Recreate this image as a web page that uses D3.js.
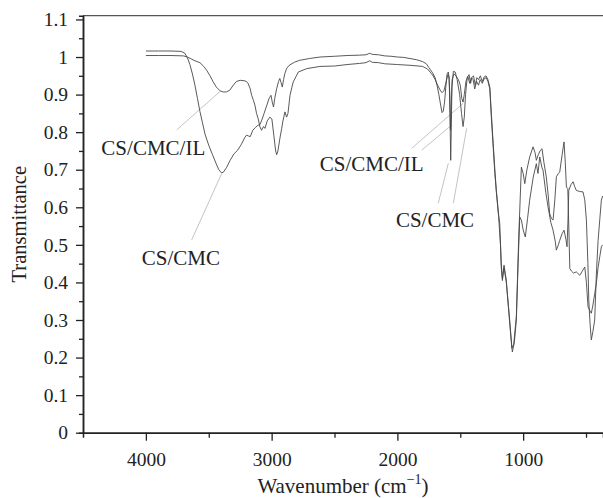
<!DOCTYPE html>
<html>
<head>
<meta charset="utf-8">
<script src="https://cdn.jsdelivr.net/npm/d3@7"></script>
<style>
	body { margin: 0; background: #fff; }
	svg { display: block; font-family: "Liberation Serif", "Times New Roman", serif; }
</style>
</head>
<body>
<div id="chart"></div>
<script>

// FTIR spectra, wavenumber (cm-1) against transmittance

var cmcWavenumbers = [4000, 3900, 3800, 3720, 3690, 3670, 3650, 3630, 3610, 3590, 3570, 3550, 3530, 3500, 3470, 3440, 3420, 3400, 3385, 3360, 3330, 3300, 3270, 3240, 3215, 3200, 3185, 3170, 3150, 3130, 3110, 3093, 3075, 3060, 3040, 3020, 3005, 2995, 2985, 2975, 2960, 2945, 2935, 2925, 2915, 2905, 2895, 2880, 2860, 2820, 2780, 2700, 2616, 2500, 2400, 2300, 2250, 2220, 2200, 2150, 2100, 2050, 2000, 1950, 1900, 1850, 1800, 1770, 1750, 1720, 1700, 1685, 1670, 1655, 1645, 1635, 1625, 1615, 1605, 1595, 1588, 1582, 1576, 1572, 1566, 1555, 1540, 1525, 1505, 1490, 1478, 1468, 1458, 1445, 1430, 1418, 1408, 1395, 1380, 1368, 1355, 1340, 1325, 1310, 1295, 1280, 1265, 1253, 1240, 1225, 1213, 1195, 1186, 1174, 1165, 1152, 1134, 1107, 1086, 1070, 1054, 1040, 1027, 1014, 1000, 983, 965, 948, 920, 895, 882, 868, 850, 842, 820, 802, 780, 762, 745, 736, 720, 709, 690, 675, 660, 651, 644, 637, 620, 603, 590, 577, 550, 524, 510, 497, 485, 478, 468, 458, 445, 431, 418, 404, 390, 378, 368];
var cmcTransmittance = [1.016, 1.016, 1.016, 1.015, 1.010, 0.998, 0.980, 0.955, 0.925, 0.890, 0.855, 0.825, 0.795, 0.765, 0.740, 0.715, 0.700, 0.692, 0.693, 0.705, 0.725, 0.742, 0.752, 0.768, 0.785, 0.792, 0.790, 0.788, 0.805, 0.812, 0.818, 0.820, 0.835, 0.850, 0.870, 0.890, 0.898, 0.880, 0.867, 0.890, 0.916, 0.935, 0.943, 0.932, 0.920, 0.940, 0.956, 0.970, 0.978, 0.986, 0.991, 0.996, 1.000, 1.002, 1.004, 1.005, 1.006, 1.010, 1.007, 1.006, 1.003, 1.002, 1.000, 0.999, 0.996, 0.993, 0.988, 0.982, 0.972, 0.958, 0.945, 0.925, 0.900, 0.870, 0.852, 0.856, 0.880, 0.920, 0.955, 0.960, 0.940, 0.850, 0.725, 0.800, 0.920, 0.962, 0.960, 0.940, 0.900, 0.850, 0.815, 0.840, 0.900, 0.945, 0.953, 0.930, 0.945, 0.950, 0.925, 0.945, 0.940, 0.950, 0.935, 0.947, 0.950, 0.940, 0.920, 0.850, 0.780, 0.700, 0.645, 0.580, 0.557, 0.440, 0.405, 0.446, 0.406, 0.291, 0.215, 0.240, 0.300, 0.450, 0.574, 0.566, 0.540, 0.521, 0.570, 0.619, 0.680, 0.716, 0.690, 0.734, 0.705, 0.699, 0.640, 0.601, 0.560, 0.539, 0.510, 0.486, 0.500, 0.512, 0.530, 0.539, 0.515, 0.495, 0.560, 0.645, 0.660, 0.668, 0.655, 0.645, 0.642, 0.641, 0.620, 0.566, 0.450, 0.353, 0.290, 0.247, 0.270, 0.300, 0.420, 0.512, 0.570, 0.619, 0.630];

var ilWavenumbers = [4000, 3900, 3800, 3700, 3670, 3640, 3610, 3570, 3540, 3517, 3490, 3465, 3440, 3410, 3385, 3360, 3332, 3305, 3280, 3250, 3220, 3200, 3186, 3170, 3159, 3145, 3133, 3120, 3107, 3093, 3080, 3065, 3053, 3035, 3014, 2998, 2982, 2968, 2960, 2950, 2934, 2920, 2910, 2894, 2881, 2870, 2854, 2840, 2828, 2800, 2788, 2722, 2616, 2500, 2400, 2300, 2250, 2220, 2200, 2150, 2100, 2000, 1900, 1800, 1760, 1720, 1700, 1680, 1660, 1645, 1630, 1615, 1600, 1590, 1583, 1578, 1573, 1565, 1550, 1535, 1515, 1500, 1488, 1478, 1468, 1455, 1440, 1425, 1412, 1398, 1385, 1370, 1355, 1342, 1325, 1310, 1295, 1280, 1265, 1253, 1240, 1225, 1213, 1195, 1180, 1174, 1165, 1152, 1134, 1107, 1090, 1075, 1054, 1035, 1014, 1000, 987, 970, 948, 921, 905, 895, 880, 862, 850, 835, 816, 800, 789, 775, 762, 748, 736, 720, 709, 690, 675, 665, 656, 645, 637, 629, 615, 600, 577, 550, 530, 510, 497, 484, 470, 458, 445, 431, 418, 404, 390, 378, 368];
var ilTransmittance = [1.004, 1.004, 1.004, 1.003, 1.000, 0.995, 0.990, 0.985, 0.975, 0.965, 0.950, 0.934, 0.920, 0.910, 0.907, 0.907, 0.912, 0.925, 0.935, 0.938, 0.937, 0.935, 0.929, 0.915, 0.898, 0.885, 0.872, 0.850, 0.836, 0.814, 0.805, 0.815, 0.810, 0.830, 0.840, 0.835, 0.790, 0.750, 0.740, 0.750, 0.784, 0.810, 0.830, 0.854, 0.840, 0.850, 0.898, 0.918, 0.934, 0.952, 0.960, 0.969, 0.975, 0.976, 0.980, 0.983, 0.985, 0.990, 0.986, 0.985, 0.982, 0.980, 0.978, 0.975, 0.968, 0.952, 0.940, 0.925, 0.912, 0.905, 0.910, 0.930, 0.952, 0.950, 0.900, 0.805, 0.860, 0.940, 0.955, 0.950, 0.940, 0.925, 0.890, 0.880, 0.900, 0.935, 0.948, 0.930, 0.945, 0.940, 0.915, 0.935, 0.925, 0.940, 0.930, 0.942, 0.945, 0.935, 0.915, 0.840, 0.770, 0.690, 0.640, 0.575, 0.500, 0.450, 0.410, 0.440, 0.400, 0.300, 0.225, 0.235, 0.310, 0.521, 0.707, 0.690, 0.663, 0.700, 0.734, 0.761, 0.745, 0.725, 0.740, 0.752, 0.756, 0.720, 0.681, 0.630, 0.583, 0.570, 0.566, 0.620, 0.681, 0.690, 0.694, 0.740, 0.774, 0.720, 0.654, 0.650, 0.550, 0.437, 0.430, 0.425, 0.428, 0.419, 0.430, 0.441, 0.400, 0.335, 0.325, 0.318, 0.340, 0.370, 0.397, 0.440, 0.470, 0.495, 0.500];

var xTicks = [4000, 3000, 2000, 1000];
var xMinorTicks = [3500, 2500, 1500, 500];
var yTicks = [0, 0.1, 0.2, 0.3, 0.4, 0.5, 0.6, 0.7, 0.8, 0.9, 1, 1.1];
var yTickLabels = ["0", "0.1", "0.2", "0.3", "0.4", "0.5", "0.6", "0.7", "0.8", "0.9", "1", "1.1"];
var yMinorTicks = [0.05, 0.15, 0.25, 0.35, 0.45, 0.55, 0.65, 0.75, 0.85, 0.95, 1.05];

// Annotations: label point and leader lines, all in wavenumber / transmittance
var annotations = [
	{ text: "CS/CMC/IL", at: [3941, 0.739], leaders: [[[3755, 0.806], [3411, 0.908]]] },
	{ text: "CS/CMC", at: [3722, 0.446], leaders: [[[3636, 0.513], [3397, 0.690]]] },
	{ text: "CS/CMC/IL", at: [2204, 0.697], leaders: [[[1886, 0.757], [1476, 0.877]], [[1807, 0.752], [1568, 0.819]]] },
	{ text: "CS/CMC", at: [1701, 0.548], leaders: [[[1675, 0.611], [1595, 0.717]], [[1555, 0.611], [1449, 0.810]]] }
];

var width = 603,
	height = 498;

var x = d3.scaleLinear().domain([4500, 365]).range([83, 603]);
var y = d3.scaleLinear().domain([0, 1.11]).range([432.7, 15.7]);

var svg = d3.select("#chart").append("svg")
	.attr("width", width)
	.attr("height", height);

// Frame on top
svg.append("line")
	.attr("x1", x.range()[0])
	.attr("x2", x.range()[1])
	.attr("y1", y.range()[1])
	.attr("y2", y.range()[1])
	.style("stroke", "#555")
	.style("stroke-width", 1.3);

// Leader lines under the spectra
annotations.forEach(function (a) {
	a.leaders.forEach(function (l) {
		svg.append("line")
		.attr("x1", x(l[0][0]))
		.attr("y1", y(l[0][1]))
		.attr("x2", x(l[1][0]))
		.attr("y2", y(l[1][1]))
		.style("stroke", "#c4c4c4")
		.style("stroke-width", 1);
	});
});

var line = d3.line()
	.x(function (d) { return x(d[0]); })
	.y(function (d) { return y(d[1]); });

svg.selectAll("path.spectrum")
	.data([d3.zip(cmcWavenumbers, cmcTransmittance), d3.zip(ilWavenumbers, ilTransmittance)])
	.enter().append("path")
	.attr("class", "spectrum")
	.attr("d", line)
	.style("fill", "none")
	.style("stroke", "#474747")
	.style("stroke-width", 0.9)
	.style("stroke-linejoin", "round");

// Axes

var styleAxis = function (g) {
	g.attr("font-family", null).attr("font-size", null);
	g.selectAll(".domain").style("stroke", "#222").style("stroke-width", 1.5);
	g.selectAll(".tick line").style("stroke", "#222").style("stroke-width", 1.3);
	g.selectAll(".tick text").style("font-size", "19.5px").style("fill", "#222");
};

svg.append("g")
	.attr("transform", "translate(0," + y.range()[0] + ")")
	.call(d3.axisBottom(x).tickValues(xMinorTicks).tickSize(5).tickFormat(""))
	.call(styleAxis);

svg.append("g")
	.attr("transform", "translate(0," + y.range()[0] + ")")
	.call(d3.axisBottom(x).tickValues(xTicks).tickSize(8).tickSizeOuter(0).tickPadding(11).tickFormat(d3.format("d")))
	.call(styleAxis);

svg.append("g")
	.attr("transform", "translate(" + x.range()[0] + ",0)")
	.call(d3.axisLeft(y).tickValues(yMinorTicks).tickSize(4).tickFormat(""))
	.call(styleAxis);

svg.append("g")
	.attr("transform", "translate(" + x.range()[0] + ",0)")
	.call(d3.axisLeft(y).tickValues(yTicks).tickSize(7).tickSizeOuter(0).tickPadding(8)
		.tickFormat(function (d, i) { return yTickLabels[i]; }))
	.call(styleAxis);

// Titles

svg.append("text")
	.attr("transform", "translate(26," + d3.mean(y.range()) + ") rotate(-90)")
	.attr("text-anchor", "middle")
	.style("font-size", "20.5px")
	.style("fill", "#222")
	.text("Transmittance");

var xTitle = svg.append("text")
	.attr("x", d3.mean(x.range()))
	.attr("y", 493)
	.attr("text-anchor", "middle")
	.style("font-size", "21px")
	.style("fill", "#222");

xTitle.append("tspan").text("Wavenumber (cm");
xTitle.append("tspan").attr("dy", -9).style("font-size", "14px").text("\u22121");
xTitle.append("tspan").attr("dy", 9).text(")");

// Labels

svg.selectAll("text.label")
	.data(annotations)
	.enter().append("text")
	.attr("class", "label")
	.attr("x", function (d) { return x(d.at[0]); })
	.attr("y", function (d) { return y(d.at[1]); })
	.attr("text-anchor", "middle")
	.style("font-size", "21px")
	.style("fill", "#222")
	.text(function (d) { return d.text; });

</script>
</body>
</html>
